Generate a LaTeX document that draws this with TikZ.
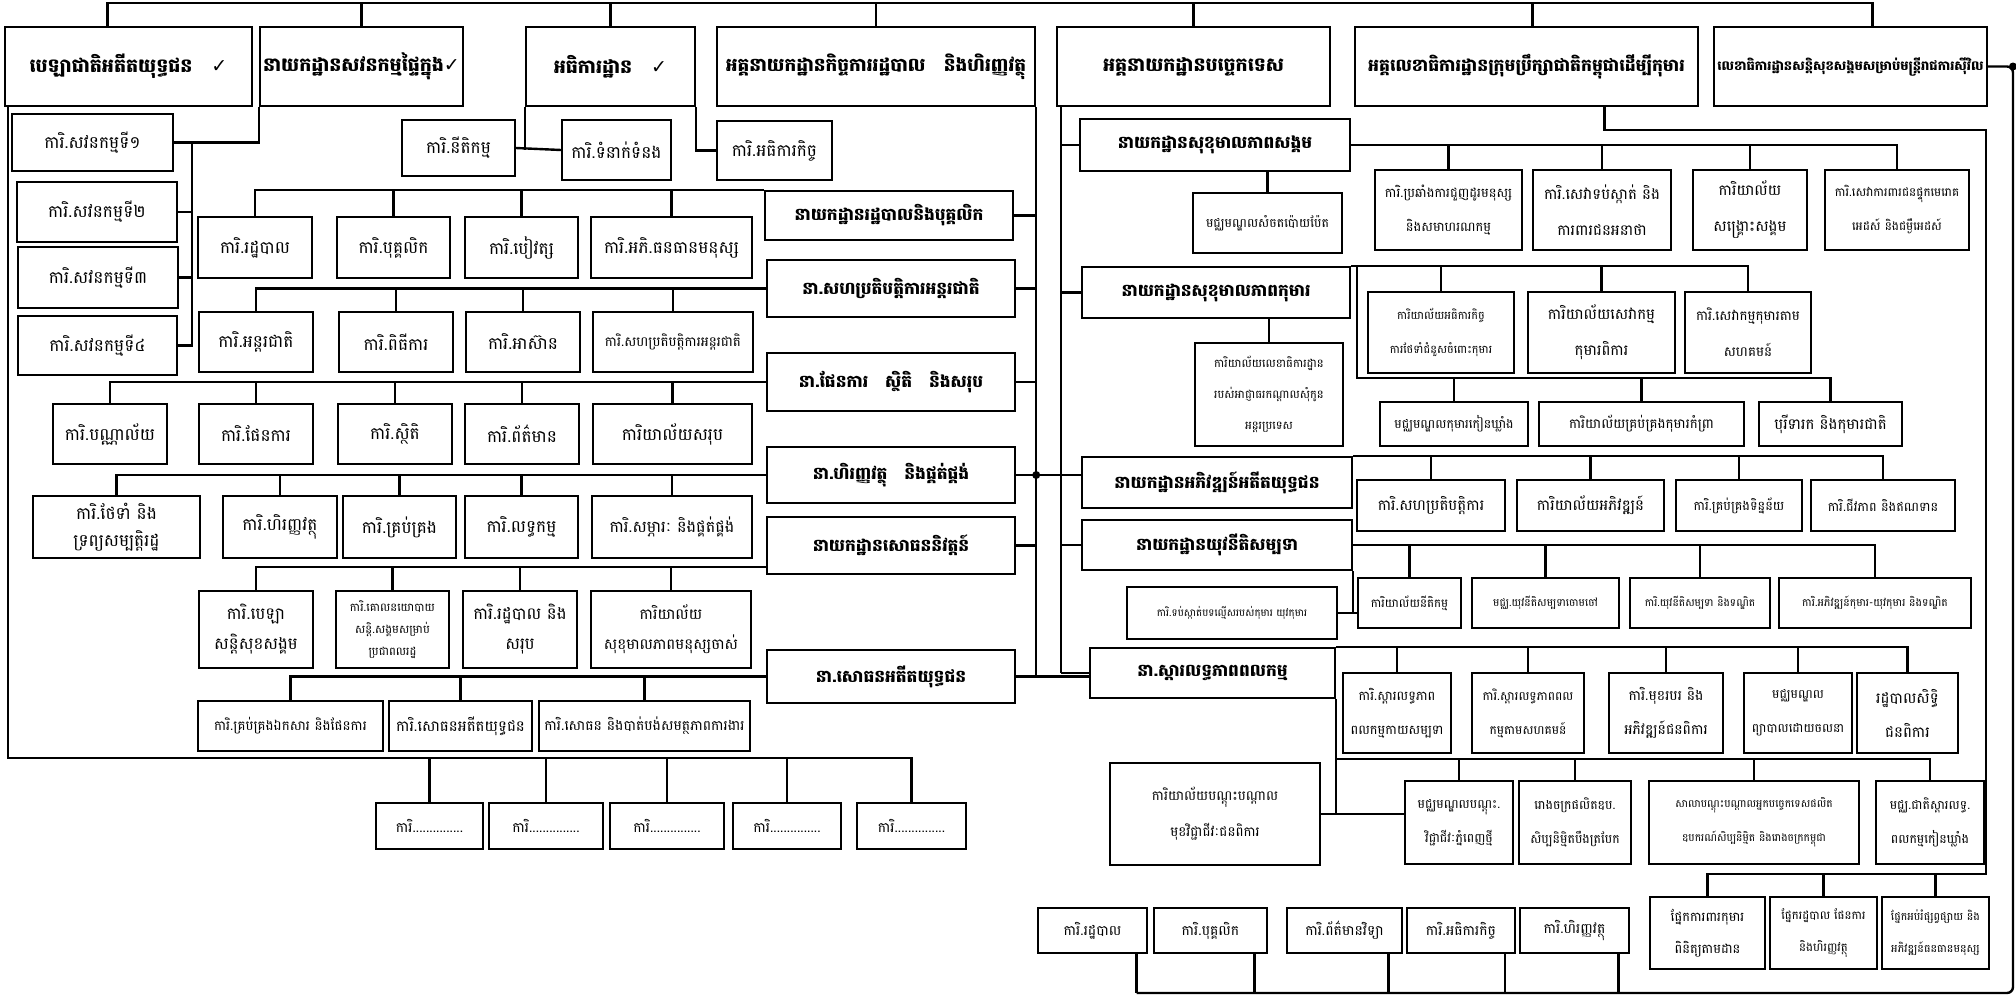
\documentclass[tikz,border=0pt]{standalone}
\usepackage{fontspec}
\newfontfamily\khmer{Battambang}[Script=Khmer]
\newfontfamily\symb{DejaVu Sans}
\usetikzlibrary{calc}
\newcommand{\chk}{{\symb\bfseries ✓}}

\begin{document}
\begin{tikzpicture}[
  x=1pt, y=-1pt,
  every node/.style={font=\khmer, align=center, inner sep=1pt},
  sz/.style 2 args={minimum width=#1pt, minimum height=#2pt},
  fs/.style 2 args={font=\khmer\fontsize{#1}{#2}\selectfont},
  head/.style={draw, line width=2.4pt, font=\khmer\bfseries\fontsize{19}{24}\selectfont},
  dept/.style={draw, line width=2.4pt, font=\khmer\bfseries\fontsize{17}{22}\selectfont},
  unit/.style={draw, line width=1.8pt, font=\khmer\fontsize{17}{32}\selectfont},
  link/.style={line width=2.4pt}
]
\useasboundingbox (0,0) rectangle (2016,996);
\coordinate (top) at (0,3);

% top row
\node[head, sz={247}{79}] (tfund)  at (128.5,66.5) {បេឡាជាតិអតីតយុទ្ធជន\quad\chk};
\node[head, sz={203}{79}] (taudit) at (361.5,66.5) {នាយកដ្ឋានសវនកម្មផ្ទៃក្នុង\chk};
\node[head, sz={169}{79}] (tinsp)  at (610.5,66.5) {អធិការដ្ឋាន\quad\chk};
\node[head, sz={318}{79}, font=\khmer\bfseries\fontsize{18.5}{24}\selectfont] (tadmin) at (876,66.5) {អគ្គនាយកដ្ឋានកិច្ចការរដ្ឋបាល\quad និងហិរញ្ញវត្ថុ};
\node[head, sz={273}{79}] (ttech)  at (1193.5,66.5) {អគ្គនាយកដ្ឋានបច្ចេកទេស};
\node[head, sz={343}{79}, font=\khmer\bfseries\fontsize{17.2}{22}\selectfont] (tccwc) at (1526.5,66.5) {អគ្គលេខាធិការដ្ឋានក្រុមប្រឹក្សាជាតិកម្ពុជាដើម្បីកុមារ};
\node[head, sz={273}{79}, font=\khmer\bfseries\fontsize{13.1}{20}\selectfont] (tnssf) at (1850.5,66.5) {លេខាធិការដ្ឋានសន្តិសុខសង្គមសម្រាប់មន្ត្រីរាជការស៊ីវិល};

\draw[link] ([xshift=-21pt]tfund.north) |- ([xshift=22pt]tnssf.north |- top) -- ([xshift=22pt]tnssf.north);
\foreach \n in {taudit,tinsp,tadmin,ttech}
  \draw[link] (\n.north) -- (\n.north |- top);
\draw[link] ([xshift=6pt]tccwc.north) -- ([xshift=6pt]tccwc.north |- top);

% internal audit
\node[unit, sz={161}{57}] (au1) at (92.5,142.5) {ការិ.សវនកម្មទី១};
\node[unit, sz={160}{60}] (au2) at (97,212) {ការិ.សវនកម្មទី២};
\node[unit, sz={160}{61}] (au3) at (98,277.5) {ការិ.សវនកម្មទី៣};
\node[unit, sz={159}{59}] (au4) at (97.5,345.5) {ការិ.សវនកម្មទី៤};
\coordinate (asp) at (192,142.5);
\draw[link] (taudit.south west) |- (au1.east);
\draw[link] (asp) |- (au4.east);
\foreach \n in {au2,au3}
  \draw[link] (\n.east) -- (\n.east -| asp);

% inspection
\node[unit, sz={113}{56}] (in1) at (458.5,148) {ការិ.នីតិកម្ម};
\node[unit, sz={109}{60}] (in2) at (616.5,150) {ការិ.ទំនាក់ទំនង};
\node[unit, sz={115}{59}] (in3) at (774.5,150.5) {ការិ.អធិការកិច្ច};
\draw[link] (in1.east) -- (in2.west);
\draw[link] (tinsp.south west) -- (tinsp.south west |- in2.west);
\draw[link] (tinsp.south east) |- (in3.west);

% administration and finance
\node[dept, sz={248}{49}] (d1) at (889,215.5) {នាយកដ្ឋានរដ្ឋបាលនិងបុគ្គលិក};
\node[dept, sz={248}{57}] (d2) at (891,288.5) {នា.សហប្រតិបត្តិការអន្តរជាតិ};
\node[dept, sz={248}{58}] (d3) at (891,382) {នា.ផែនការ\quad ស្ថិតិ\quad និងសរុប};
\node[dept, sz={248}{56}] (d4) at (891,475) {នា.ហិរញ្ញវត្ថុ\quad និងផ្គត់ផ្គង់};
\node[dept, sz={248}{57}] (d5) at (891,545.5) {នាយកដ្ឋានសោធននិវត្តន៍};
\node[dept, sz={248}{53}] (d6) at (891,676.5) {នា.សោធនអតីតយុទ្ធជន};
\coordinate (d5bus) at ([yshift=8pt]d5.south west);
\draw[link] (tadmin.south east) -- (tadmin.south east |- d6.east);
\foreach \n in {d1,d2,d3,d5}
  \draw[link] (\n.east) -- (\n.east -| tadmin.south east);

\node[unit, sz={114}{61}] (a11) at (255,247.5) {ការិ.រដ្ឋបាល};
\node[unit, sz={113}{61}] (a12) at (393.5,247.5) {ការិ.បុគ្គលិក};
\node[unit, sz={113}{61}] (a13) at (521.5,247.5) {ការិ.បៀវត្ស};
\node[unit, sz={161}{61}] (a14) at (671.5,247.5) {ការិ.អភិ.ធនធានមនុស្ស};
\draw[link] (a11.north) |- (d1.north west);
\foreach \n in {a12,a13,a14}
  \draw[link] (\n.north) -- (\n.north |- d1.north west);

\node[unit, sz={114}{60}] (a21) at (256,342) {ការិ.អន្តរជាតិ};
\node[unit, sz={114}{60}] (a22) at (396,342) {ការិ.ពិធីការ};
\node[unit, sz={114}{60}] (a23) at (523,342) {ការិ.អាស៊ាន};
\node[unit, sz={160}{60}, fs={13.5}{28}] (a24) at (673,342) {ការិ.សហប្រតិបត្តិការអន្តរជាតិ};
\draw[link] (a21.north) |- (d2.west);
\foreach \n in {a22,a23,a24}
  \draw[link] (\n.north) -- (\n.north |- d2.west);

\node[unit, sz={114}{60}] (a31) at (110,434) {ការិ.បណ្ណាល័យ};
\node[unit, sz={114}{60}] (a32) at (256,434) {ការិ.ផែនការ};
\node[unit, sz={114}{60}] (a33) at (395,434) {ការិ.ស្ថិតិ};
\node[unit, sz={114}{60}] (a34) at (522,434) {ការិ.ព័ត៌មាន};
\node[unit, sz={159}{60}] (a35) at (672.5,434) {ការិយាល័យសរុប};
\draw[link] (a31.north) |- (d3.west);
\foreach \n in {a32,a33,a34,a35}
  \draw[link] (\n.north) -- (\n.north |- d3.west);

\node[unit, sz={167}{62}, fs={17}{27}] (a41) at (116.5,527) {ការិ.ថែទាំ និង\\ទ្រព្យសម្បត្តិរដ្ឋ};
\node[unit, sz={114}{62}] (a42) at (280,527) {ការិ.ហិរញ្ញវត្ថុ};
\node[unit, sz={113}{62}] (a43) at (399.5,527) {ការិ.គ្រប់គ្រង};
\node[unit, sz={113}{62}] (a44) at (521.5,527) {ការិ.លទ្ធកម្ម};
\node[unit, sz={160}{62}, fs={16}{30}] (a45) at (672,527) {ការិ.សម្ភារៈ និងផ្គត់ផ្គង់};
\draw[link] (a41.north) |- (d4.west);
\foreach \n in {a42,a43,a44,a45}
  \draw[link] (\n.north) -- (\n.north |- d4.west);
\fill (d4.east -| tadmin.south east) circle (4pt);

\node[unit, sz={114}{77}, fs={16.5}{30}] (a51) at (256,629.5) {ការិ.បេឡា\\សន្តិសុខសង្គម};
\node[unit, sz={113}{77}, fs={11.5}{22}] (a52) at (392.5,629.5) {ការិ.គោលនយោបាយ\\សន្តិ.សង្គមសម្រាប់\\ប្រជាពលរដ្ឋ};
\node[unit, sz={114}{77}, fs={16.5}{30}] (a53) at (520,629.5) {ការិ.រដ្ឋបាល និង\\សរុប};
\node[unit, sz={160}{77}, fs={15}{30}] (a54) at (671,629.5) {ការិយាល័យ\\សុខុមាលភាពមនុស្សចាស់};
\draw[link] (a51.north) |- (d5bus);
\foreach \n in {a52,a53,a54}
  \draw[link] (\n.north) -- (\n.north |- d5bus);

\node[unit, sz={185}{50}, fs={13.5}{28}] (a61) at (290.5,726) {ការិ.គ្រប់គ្រងឯកសារ និងផែនការ};
\node[unit, sz={143}{50}, fs={15}{28}] (a62) at (460.5,726) {ការិ.សោធនអតីតយុទ្ធជន};
\node[unit, sz={211}{50}, fs={14}{28}] (a63) at (644.5,726) {ការិ.សោធន និងបាត់បង់សមត្ថភាពការងារ};
\draw[link] (a61.north) |- (d6.west);
\foreach \n in {a62,a63}
  \draw[link] (\n.north) -- (\n.north |- d6.west);

% veterans fund offices
\node[unit, sz={107}{46}, fs={14}{28}] (f1) at (429.5,826) {ការិ...............};
\node[unit, sz={114}{46}, fs={14}{28}] (f2) at (546,826) {ការិ...............};
\node[unit, sz={114}{46}, fs={14}{28}] (f3) at (667,826) {ការិ...............};
\node[unit, sz={108}{46}, fs={14}{28}] (f4) at (787,826) {ការិ...............};
\node[unit, sz={109}{46}, fs={14}{28}] (f5) at (911.5,826) {ការិ...............};
\coordinate (fbus) at (8,758);
\draw[link] (8,106) -- (fbus) -| (f5.north);
\foreach \n in {f1,f2,f3,f4}
  \draw[link] (\n.north) -- (\n.north |- fbus);

% technical departments
\node[dept, sz={270}{52}] (r1) at (1215,145) {នាយកដ្ឋានសុខុមាលភាពសង្គម};
\node[dept, sz={268}{51}] (r2) at (1216,292.5) {នាយកដ្ឋានសុខុមាលភាពកុមារ};
\node[dept, sz={270}{51}] (r3) at (1217,482.5) {នាយកដ្ឋានអភិវឌ្ឍន៍អតីតយុទ្ធជន};
\node[dept, sz={270}{50}] (r4) at (1217,545) {នាយកដ្ឋានយុវនីតិសម្បទា};
\node[dept, sz={245}{50}] (r5) at (1212.5,673) {នា.ស្តារលទ្ធភាពពលកម្ម};
\coordinate (tsp) at ([xshift=5pt]ttech.south west);
\draw[link] (tsp) -- (tsp |- r5.west);
\foreach \n in {r1,r2,r4,r5}
  \draw[link] (\n.west) -- (\n.west -| tsp);
\draw[link] (d4.east) -- (d4.east -| r3.west);
\draw[link] (d6.east) -- (d6.east -| r5.west);

% social welfare
\node[unit, sz={149}{60}, fs={12.5}{28}] (s0) at (1267.5,223) {មជ្ឈមណ្ឌលសំចតប៉ោយប៉ែត};
\node[unit, sz={147}{80}, fs={13}{34}] (s1) at (1448.5,210) {ការិ.ប្រឆាំងការជួញដូរមនុស្ស\\និងសមាហរណកម្ម};
\node[unit, sz={138}{80}, fs={15}{36}] (s2) at (1602,210) {ការិ.សេវាទប់ស្កាត់ និង\\ការពារជនអនាថា};
\node[unit, sz={114}{80}, fs={15}{36}] (s3) at (1750,210) {ការិយាល័យ\\សង្គ្រោះសង្គម};
\node[unit, sz={144}{80}, fs={12}{34}] (s4) at (1897,210) {ការិ.សេវាការពារជនផ្ទុកមេរោគ\\អេដស៍ និងជម្ងឺអេដស៍};
\draw[link] (s0.north) -- (s0.north |- r1.south);
\draw[link] (r1.east) -| (s4.north);
\foreach \n in {s1,s2,s3}
  \draw[link] (\n.north) -- (\n.north |- r1.east);

% child welfare
\node[unit, sz={148}{103}, fs={11.5}{31}] (k0) at (1269,394.5) {ការិយាល័យលេខាធិការដ្ឋាន\\របស់អាជ្ញាធរកណ្តាលសុំកូន\\អន្តរប្រទេស};
\node[unit, sz={146}{81}, fs={11.3}{34}] (k1) at (1441,332.5) {ការិយាល័យអធិការកិច្ច\\ការថែទាំជំនួសចំពោះកុមារ};
\node[unit, sz={147}{81}, fs={15}{36}] (k2) at (1601.5,332.5) {ការិយាល័យសេវាកម្ម\\កុមារពិការ};
\node[unit, sz={126}{81}, fs={13.5}{36}] (k3) at (1748,332.5) {ការិ.សេវាកម្មកុមារតាម\\សហគមន៍};
\node[unit, sz={148}{44}, fs={12.5}{28}] (k4) at (1454,424) {មជ្ឈមណ្ឌលកុមារកៀនឃ្លាំង};
\node[unit, sz={205}{44}, fs={13.5}{28}] (k5) at (1641.5,424) {ការិយាល័យគ្រប់គ្រងកុមារកំព្រា};
\node[unit, sz={143}{44}, fs={15}{28}] (k6) at (1830.5,424) {បុរីទារក និងកុមារជាតិ};
\coordinate (kb) at (1357,378);
\draw[link] (k0.north) -- (k0.north |- r2.south);
\draw[link] (r2.north east) -| (k3.north);
\foreach \n in {k1,k2}
  \draw[link] (\n.north) -- (\n.north |- r2.north east);
\draw[link] (kb |- r2.north east) -- (kb) -| (k6.north);
\foreach \n in {k4,k5}
  \draw[link] (\n.north) -- (\n.north |- kb);

% veterans development
\node[unit, sz={148}{51}, fs={15}{28}] (v1) at (1431,505.5) {ការិ.សហប្រតិបត្តិការ};
\node[unit, sz={147}{51}, fs={15}{28}] (v2) at (1590.5,505.5) {ការិយាល័យអភិវឌ្ឍន៍};
\node[unit, sz={126}{51}, fs={12.8}{28}] (v3) at (1739,505.5) {ការិ.គ្រប់គ្រងទិន្នន័យ};
\node[unit, sz={144}{51}, fs={12.8}{28}] (v4) at (1883,505.5) {ការិ.ជីវភាព និងឥណទាន};
\draw[link] (r3.north east) -| (v4.north);
\foreach \n in {v1,v2,v3}
  \draw[link] (\n.north) -- (\n.north |- r3.north east);

% juvenile rehabilitation
\node[unit, sz={210}{52}, fs={10.3}{26}] (j0) at (1232,613) {ការិ.ទប់ស្កាត់បទល្មើសរបស់កុមារ យុវកុមារ};
\node[unit, sz={103}{50}, fs={11.8}{26}] (j1) at (1409.5,603) {ការិយាល័យនីតិកម្ម};
\node[unit, sz={147}{50}, fs={10.7}{26}] (j2) at (1545.5,603) {មជ្ឈ.យុវនីតិសម្បទាចោមចៅ};
\node[unit, sz={140}{50}, fs={10.6}{26}] (j3) at (1700,603) {ការិ.យុវនីតិសម្បទា និងទណ្ឌិត};
\node[unit, sz={192}{50}, fs={10.8}{26}] (j4) at (1875,603) {ការិ.អភិវឌ្ឍន៍កុមារ-យុវកុមារ និងទណ្ឌិត};
\draw[link] (r4.east) -| (j4.north);
\foreach \n in {j1,j2,j3}
  \draw[link] (\n.north) -- (\n.north |- r4.east);
\draw[link] (r4.south east) -- (r4.south east |- j0.east);
\draw[link] (j0.east) -- (j0.east -| j1.west);

% labour rehabilitation
\node[unit, sz={108}{80}, fs={13}{34}] (p1) at (1397,713) {ការិ.ស្តារលទ្ធភាព\\ពលកម្មកាយសម្បទា};
\node[unit, sz={112}{80}, fs={12.3}{34}] (p2) at (1528,713) {ការិ.ស្តារលទ្ធភាពពល\\កម្មតាមសហគមន៍};
\node[unit, sz={114}{80}, fs={14}{34}] (p3) at (1666,713) {ការិ.មុខរបរ និង\\អភិវឌ្ឍន៍ជនពិការ};
\node[unit, sz={108}{80}, fs={12.4}{34}] (p4) at (1798,713) {មជ្ឈមណ្ឌល\\ព្យាបាលដោយចលនា};
\node[unit, sz={101}{80}, fs={15}{34}] (p5) at (1907.5,713) {រដ្ឋបាលសិទ្ធិ\\ជនពិការ};
\draw[link] (r5.north east) -| (p5.north);
\foreach \n in {p1,p2,p3,p4}
  \draw[link] (\n.north) -- (\n.north |- r5.north east);

\node[unit, sz={210}{102}, fs={13.5}{36}] (q0) at (1215,814) {ការិយាល័យបណ្តុះបណ្តាល\\មុខវិជ្ជាជីវៈជនពិការ};
\node[unit, sz={108}{83}, fs={12.5}{34}] (q1) at (1459,822.5) {មជ្ឈមណ្ឌលបណ្តុះ.\\វិជ្ជាជីវៈភ្នំពេញថ្មី};
\node[unit, sz={112}{83}, fs={12.5}{34}] (q2) at (1575,822.5) {រោងចក្រផលិតឧប.\\សិប្បនិម្មិតបឹងត្របែក};
\node[unit, sz={210}{83}, fs={10.7}{34}] (q3) at (1754,822.5) {សាលាបណ្តុះបណ្តាលអ្នកបច្ចេកទេសផលិត\\ឧបករណ៍សិប្បនិម្មិត និងរោងចក្រកម្ពុជា};
\node[unit, sz={108}{83}, fs={12.5}{34}] (q4) at (1930,822.5) {មជ្ឈ.ជាតិស្តារលទ្ធ.\\ពលកម្មកៀនឃ្លាំង};
\coordinate (pb) at (1338,759);
\draw[link] (r5.south east) -- (r5.south east |- q0.east);
\draw[link] (q0.east) -- (q0.east -| q1.west);
\draw[link] (r5.south east |- pb) -| (q4.north);
\foreach \n in {q1,q2,q3}
  \draw[link] (\n.north) -- (\n.north |- pb);

% council for children
\node[unit, sz={115}{72}, fs={13}{32}] (c1) at (1707.5,933) {ផ្នែកការពារកុមារ\\ពិនិត្យតាមដាន};
\node[unit, sz={107}{72}, fs={11.7}{32}] (c2) at (1823.5,933) {ផ្នែករដ្ឋបាល ផែនការ\\និងហិរញ្ញវត្ថុ};
\node[unit, sz={107}{72}, fs={11}{32}] (c3) at (1935.5,933) {ផ្នែកអប់រំផ្សព្វផ្សាយ និង\\អភិវឌ្ឍន៍ធនធានមនុស្ស};
\coordinate (ct) at (1986,130);
\coordinate (cb) at (1986,874);
\draw[link] ([xshift=78pt]tccwc.south) |- (ct) -- (cb) -| (c1.north);
\foreach \n in {c2,c3}
  \draw[link] (\n.north) -- (\n.north |- cb);

% civil servants social security
\node[unit, sz={109}{45}, fs={14}{28}] (n1) at (1092.5,930.5) {ការិ.រដ្ឋបាល};
\node[unit, sz={113}{45}, fs={14}{28}] (n2) at (1210.5,930.5) {ការិ.បុគ្គលិក};
\node[unit, sz={115}{45}, fs={14}{28}] (n3) at (1344.5,930.5) {ការិ.ព័ត៌មានវិទ្យា};
\node[unit, sz={108}{45}, fs={14}{28}] (n4) at (1461,930.5) {ការិ.អធិការកិច្ច};
\node[unit, sz={109}{45}, fs={14}{28}] (n5) at (1574.5,930.5) {ការិ.ហិរញ្ញវត្ថុ};
\coordinate (nb) at (2013,993);
\draw[link, rounded corners=6pt] (tnssf.east) -| (nb) -- ([xshift=44pt]n1.south |- nb);
\foreach \n in {n1,n2,n3,n4,n5}
  \draw[link] ([xshift=44pt]\n.south) -- ([xshift=44pt]\n.south |- nb);
\fill (tnssf.east -| nb) circle (4pt);
\end{tikzpicture}
\end{document}
